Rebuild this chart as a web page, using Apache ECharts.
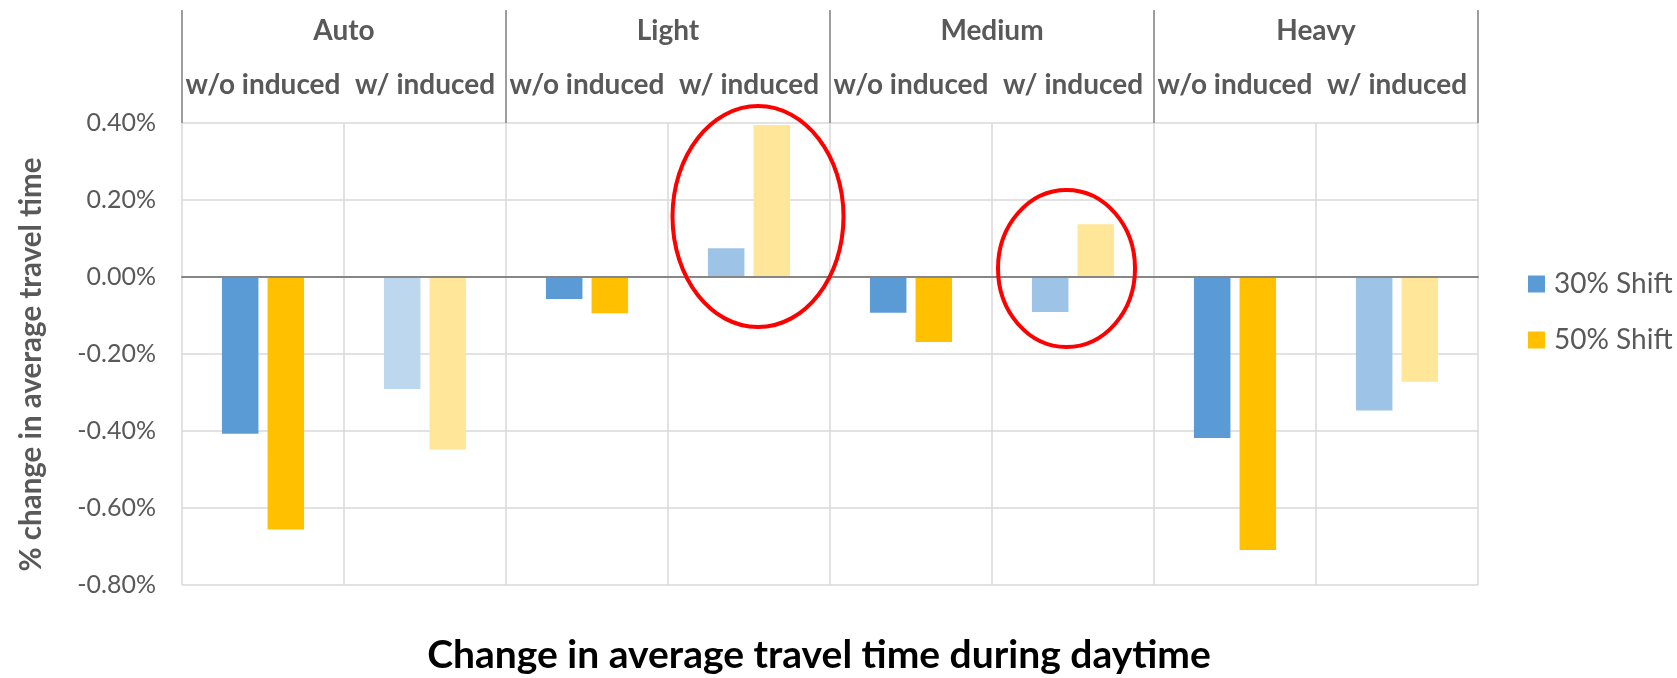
<!DOCTYPE html>
<html><head><meta charset="utf-8">
<script src="https://cdn.jsdelivr.net/npm/echarts@6/dist/echarts.min.js"></script>
<style>html,body{margin:0;padding:0;background:#fff}#c{width:1677px;height:678px}</style>
</head><body><div id="c"></div>
<script>
// ---- data ----
const groups = ['Auto', 'Light', 'Medium', 'Heavy'];
const subCategories = ['w/o induced', 'w/ induced', 'w/o induced', 'w/ induced',
                       'w/o induced', 'w/ induced', 'w/o induced', 'w/ induced'];
const seriesNames = ['30% Shift', '50% Shift'];
const shift30 = [-0.407, -0.291, -0.057, 0.075, -0.093, -0.091, -0.418, -0.347];
const shift50 = [-0.656, -0.448, -0.094, 0.395, -0.169, 0.137, -0.709, -0.272];
const yMin = -0.8, yMax = 0.4, yStep = 0.2;
const highlightedCategories = [3, 5];   // Light w/ induced, Medium w/ induced
const chartTitle = 'Change in average travel time during daytime';
const yTitle = '% change in average travel time';

// ---- styles ----
const FONT = 'Lato, "DejaVu Sans", sans-serif';
const TEXT = '#595959';
const baseColors = ['#5B9BD5', '#FFC000'];
function barColor(s, i) {
  const induced = i % 2 === 1;
  if (!induced) return baseColors[s];
  if (s === 1) return '#FFE699';
  return i === 1 ? '#BDD7EE' : '#9DC3E6';
}
const ellipseStyle = [
  { dx: 9, cyValue: 0.157, rx: 85.5, ry: 110.5 },
  { dx: -6.5, cyValue: 0.022, rx: 68.5, ry: 78.5 }
];

const chart = echarts.init(document.getElementById('c'), null, { renderer: 'canvas' });
const keys = subCategories.map((_, i) => 'c' + i);

const option = {
  animation: false,
  backgroundColor: '#fff',
  textStyle: { fontFamily: FONT },
  grid: { left: 182, right: 199, top: 123, bottom: 93, containLabel: false },
  legend: {
    data: seriesNames, orient: 'vertical', left: 1523, top: 265,
    itemWidth: 17, itemHeight: 17, itemGap: 28, icon: 'rect',
    textStyle: { fontSize: 28, color: TEXT, fontFamily: FONT, padding: [0, 0, 0, 4] }
  },
  xAxis: [
    {
      type: 'category', data: keys, position: 'bottom',
      axisLine: { show: true, onZero: true, lineStyle: { color: '#868686', width: 2 } },
      axisTick: { show: false }, axisLabel: { show: false },
      splitLine: { show: true, interval: 0, lineStyle: { color: '#D9D9D9', width: 1.5 } },
      z: 5
    },
    {
      type: 'category', data: keys, position: 'top',
      axisLine: { show: false }, axisTick: { show: false }, splitLine: { show: false },
      axisLabel: {
        interval: 0, margin: 24, fontSize: 28, fontWeight: 'bold', color: TEXT, fontFamily: FONT,
        formatter: (v, i) => subCategories[i]
      }
    },
    {
      type: 'category', data: groups, position: 'top',
      axisLine: { show: false }, splitLine: { show: false },
      axisTick: { show: true, interval: 0, length: 113, lineStyle: { color: '#7F7F7F', width: 1.5 } },
      axisLabel: { interval: 0, margin: 78, fontSize: 28, fontWeight: 'bold', color: TEXT, fontFamily: FONT }
    }
  ],
  yAxis: {
    type: 'value', min: yMin, max: yMax, interval: yStep,
    axisLine: { show: false }, axisTick: { show: false },
    splitLine: { show: true, lineStyle: { color: '#D9D9D9', width: 1.5 } },
    axisLabel: { formatter: v => v.toFixed(2) + '%', fontSize: 25, color: TEXT, margin: 26, fontFamily: FONT },
    name: yTitle, nameLocation: 'middle', nameGap: 136, nameRotate: 90,
    nameTextStyle: { fontSize: 29.5, fontWeight: 'bold', color: TEXT, fontFamily: FONT, padding: [0, 21, 0, 0] }
  },
  series: [shift30, shift50].map((arr, s) => ({
    name: seriesNames[s], type: 'bar', xAxisIndex: 0, yAxisIndex: 0,
    barWidth: 36.5, barGap: '25%',
    itemStyle: { color: baseColors[s] },
    data: arr.map((v, i) => ({ value: v, itemStyle: { color: barColor(s, i) } }))
  })),
  graphic: [{
    type: 'text', x: 819, y: 655, z: 10,
    style: { text: chartTitle, align: 'center', verticalAlign: 'middle',
      font: 'bold 39px ' + FONT, fill: '#000' }
  }]
};
chart.setOption(option);

const ellipses = highlightedCategories.map((ci, k) => {
  const p = chart.convertToPixel({ xAxisIndex: 0, yAxisIndex: 0 }, [ci, ellipseStyle[k].cyValue]);
  return {
    type: 'ellipse', z: 20,
    shape: { cx: p[0] + ellipseStyle[k].dx, cy: p[1], rx: ellipseStyle[k].rx, ry: ellipseStyle[k].ry },
    style: { fill: 'none', stroke: '#FF0000', lineWidth: 4 }
  };
});
chart.setOption({ graphic: option.graphic.concat(ellipses) });
</script>
</body></html>
